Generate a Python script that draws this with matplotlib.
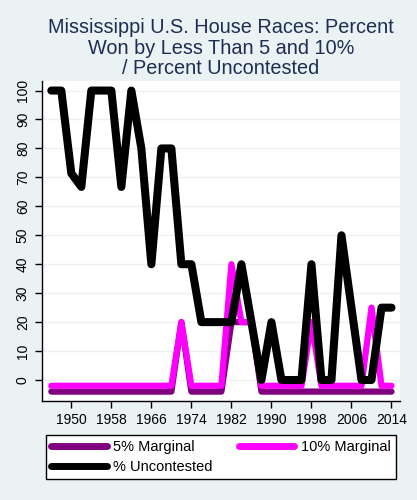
import numpy as np
from matplotlib import pyplot as plt

plt.rcParams['font.family'] = ['Liberation Sans', 'DejaVu Sans']

# election years, every two years
years = list(range(1946, 2016, 2))

# % uncontested
uncontested = [100, 100, 71.4, 66.7, 100, 100, 100, 66.7, 100, 80,
               40, 80, 80, 40, 40, 20, 20, 20, 20, 40,
               20, 0, 20, 0, 0, 0, 40, 0, 0, 50,
               25, 0, 0, 25, 25]

# 10% marginal (zero years drawn at -2)
marg10 = [-2, -2, -2, -2, -2, -2, -2, -2, -2, -2,
          -2, -2, -2, 20, -2, -2, -2, -2, 40, 20,
          20, -2, -2, -2, -2, -2, 20, -2, -2, -2,
          -2, -2, 25, -2, -2]

# 5% marginal (zero years drawn at -4)
marg5 = [-4, -4, -4, -4, -4, -4, -4, -4, -4, -4,
         -4, -4, -4, 20, -4, -4, -4, -4, 20, 20,
         20, -4, -4, -4, -4, -4, -4, -4, -4, -4,
         -4, -4, -4, -4, -4]

xticks = list(range(1950, 2015, 8))
yticks = list(range(0, 101, 10))

bg = '#EAF2F3'
navy = '#1E2D53'

fig = plt.figure(figsize=(4.17, 5.0), dpi=100, facecolor=bg)
ax = fig.add_axes([41.7 / 417, 1 - 401 / 500, (400 - 41.7) / 417, (401 - 81) / 500])
ax.set_facecolor('white')

for y in yticks:
    ax.axhline(y, color=bg, linewidth=1.0, zorder=0)

l5, = ax.plot(years, marg5, color='#800080', linewidth=4.5, solid_capstyle='round',
              solid_joinstyle='round', label='5% Marginal', zorder=2)
l10, = ax.plot(years, marg10, color='#FF00FF', linewidth=4.5, solid_capstyle='round',
               solid_joinstyle='round', label='10% Marginal', zorder=3)
lun, = ax.plot(years, uncontested, color='black', linewidth=5.8, solid_capstyle='round',
               solid_joinstyle='round', label='% Uncontested', zorder=4)

ax.set_xlim(1944.08, 2015.7)
ax.set_ylim(-7.25, 103.3)
ax.set_xticks(xticks)
ax.set_yticks(yticks)
ax.tick_params(axis='both', labelsize=10, length=5, width=1, color='black', labelcolor='black')
for lab in ax.get_yticklabels():
    lab.set_rotation(90)
    lab.set_va('center')

ax.spines['top'].set_visible(False)
ax.spines['right'].set_visible(False)
ax.spines['left'].set_linewidth(1)
ax.spines['bottom'].set_linewidth(1)

fig.text(221 / 417, 1 - 48 / 500,
         'Mississippi U.S. House Races: Percent\nWon by Less Than 5 and 10%\n/ Percent Uncontested',
         ha='center', va='center', fontsize=14.3, color=navy, linespacing=1.1)

# column-major fill: put uncontested second so it lands on row two
leg = fig.legend([l5, lun, l10], ['5% Marginal', '% Uncontested', '10% Marginal'],
                 loc='lower left', bbox_to_anchor=(46 / 417, 1 - 479 / 500, 350 / 417, 46 / 500),
                 mode='expand', ncol=2, fontsize=10.5, frameon=True, fancybox=False,
                 edgecolor='black', facecolor='white', framealpha=1,
                 handlelength=3.8, handletextpad=0.45, borderpad=0.35, labelspacing=0.4,
                 borderaxespad=0)
leg.get_frame().set_linewidth(1)
for line in leg.get_lines():
    line.set_linewidth(5)
    line.set_solid_capstyle('round')

fig.savefig('out.png', dpi=100, facecolor=bg)
